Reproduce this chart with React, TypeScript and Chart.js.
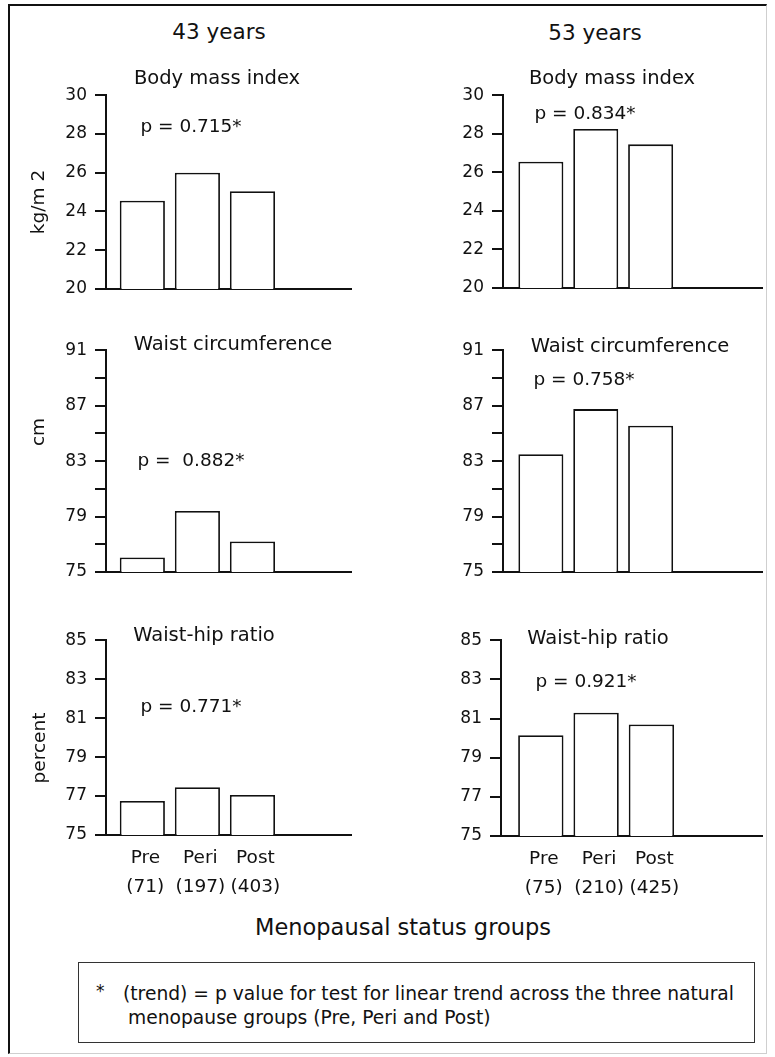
import React, { useEffect, useRef } from 'react';
import { Chart, registerables } from 'chart.js';

Chart.register(...registerables);

const FONT = "'DejaVu Sans', 'Liberation Sans', sans-serif";
const INK = '#111111';

// ---- data ----
const groups = ['Pre', 'Peri', 'Post'];
const counts43 = ['(71)', '(197)', '(403)'];
const counts53 = ['(75)', '(210)', '(425)'];

const bmi43 = [24.55, 26.0, 25.05];
const bmi53 = [26.55, 28.25, 27.45];
const waist43 = [76.05, 79.4, 77.2];
const waist53 = [83.5, 86.75, 85.55];
const whr43 = [76.75, 77.45, 77.05];
const whr53 = [80.15, 81.3, 80.7];

const bmiRange = [20, 30];
const waistRange = [75, 91];
const whrRange = [75, 85];
const tickStep = 2;
const waistLabelStep = 4;
const plainLabelStep = 2;

const ageTitles = ['43 years', '53 years'];
const measureTitles = ['Body mass index', 'Waist circumference', 'Waist-hip ratio'];
const unitTitles = ['kg/m 2', 'cm', 'percent'];
const pText43 = ['p = 0.715*', 'p =  0.882*', 'p = 0.771*'];
const pText53 = ['p = 0.834*', 'p = 0.758*', 'p = 0.921*'];
const xAxisTitle = 'Menopausal status groups';
const footnoteLines = [
  '(trend) = p value for test for linear trend across the three natural',
  'menopause groups (Pre, Peri and Post)',
];

// ---- layout helpers ----
const YW = 70;
const PT = 16;
const PR = 8;
const XH = 72;

type PanelProps = {
  values: number[];
  range: number[];
  labelStep: number;
  counts: string[] | null;
  axisX: number;
  topY: number;
  bottomY: number;
  rightX: number;
  xMin: number;
  xMax: number;
};

function Panel(props: PanelProps) {
  const { values, range, labelStep, counts, axisX, topY, bottomY, rightX, xMin, xMax } = props;
  const ref = useRef<HTMLCanvasElement>(null);
  const left = axisX - YW;
  const top = topY - PT;
  const width = rightX + PR - left;
  const height = bottomY + XH - top;

  useEffect(() => {
    const chart = new Chart(ref.current as HTMLCanvasElement, {
      type: 'bar',
      data: {
        datasets: [
          {
            data: values.map((v, i) => ({ x: i + 1, y: v })),
            backgroundColor: '#ffffff',
            borderColor: INK,
            borderWidth: 1.8,
            barPercentage: 0.82,
            categoryPercentage: 1,
          } as any,
        ],
      },
      options: {
        animation: false,
        responsive: false,
        maintainAspectRatio: false,
        devicePixelRatio: 1,
        layout: { padding: { top: PT, right: PR, left: 0, bottom: 0 } },
        plugins: { legend: { display: false }, tooltip: { enabled: false }, title: { display: false } },
        scales: {
          x: {
            type: 'linear',
            min: xMin,
            max: xMax,
            offset: false,
            grid: { display: false, drawTicks: false },
            border: { display: true, color: INK, width: 2 },
            afterBuildTicks: (s: any) => {
              s.ticks = groups.map((_, i) => ({ value: i + 1 }));
            },
            afterFit: (s: any) => {
              s.height = XH;
            },
            ticks: {
              display: !!counts,
              autoSkip: false,
              maxRotation: 0,
              minRotation: 0,
              padding: 8,
              labelOffset: 3,
              color: INK,
              font: { family: FONT, size: 18.5, lineHeight: 1.6 },
              callback: (_v: any, i: number) => (counts ? [groups[i], counts[i]] : ''),
            },
          },
          y: {
            type: 'linear',
            min: range[0],
            max: range[1],
            grid: { drawOnChartArea: false, drawTicks: true, tickLength: 11, color: INK, lineWidth: 2 },
            border: { display: true, color: INK, width: 2 },
            afterFit: (s: any) => {
              s.width = YW;
            },
            ticks: {
              stepSize: tickStep,
              autoSkip: false,
              padding: 8,
              color: INK,
              font: { family: FONT, size: 17 },
              callback: (v: any) => ((Number(v) - range[0]) % labelStep === 0 ? String(v) : ''),
            },
          },
        },
      } as any,
    });
    return () => chart.destroy();
  }, []);

  return (
    <canvas
      ref={ref}
      width={width}
      height={height}
      style={{ position: 'absolute', left, top, width, height, display: 'block' }}
    />
  );
}

type TProps = {
  x: number;
  y: number;
  size: number;
  text: string;
  rotate?: boolean;
  anchor?: 'center' | 'left';
};

function T({ x, y, size, text, rotate, anchor = 'center' }: TProps) {
  const tx = anchor === 'center' ? '-50%' : '0';
  return (
    <div
      style={{
        position: 'absolute',
        left: x,
        top: y,
        transform: `translate(${tx}, -50%)${rotate ? ' rotate(-90deg)' : ''}`,
        fontFamily: FONT,
        fontSize: size,
        lineHeight: 1,
        whiteSpace: 'pre',
        color: INK,
      }}
    >
      {text}
    </div>
  );
}

export default function App() {
  const L = { axisX: 106, rightX: 351, xMin: 0.34, xMax: 4.79 };
  const R = { axisX: 503, rightX: 762, xMin: 0.31, xMax: 5.03 };
  const R3 = { axisX: 501, rightX: 762, xMin: 0.28, xMax: 5.0 };

  return (
    <div style={{ position: 'absolute', left: 0, top: 0, width: 775, height: 1057, background: '#fff' }}>
      <div
        style={{
          position: 'absolute',
          left: 8,
          top: 4,
          width: 759,
          height: 1050,
          boxSizing: 'border-box',
          borderLeft: '2.5px solid #111',
          borderTop: '2.5px solid #111',
          borderRight: '1px solid #cfcfcf',
          borderBottom: '1px solid #cfcfcf',
        }}
      />

      <Panel values={bmi43} range={bmiRange} labelStep={plainLabelStep} counts={null} topY={93} bottomY={289} {...L} />
      <Panel values={bmi53} range={bmiRange} labelStep={plainLabelStep} counts={null} topY={93} bottomY={288} {...R} />
      <Panel values={waist43} range={waistRange} labelStep={waistLabelStep} counts={null} topY={348} bottomY={572} {...L} />
      <Panel values={waist53} range={waistRange} labelStep={waistLabelStep} counts={null} topY={348} bottomY={572} {...R} />
      <Panel values={whr43} range={whrRange} labelStep={plainLabelStep} counts={counts43} topY={638} bottomY={835} {...L} />
      <Panel values={whr53} range={whrRange} labelStep={plainLabelStep} counts={counts53} topY={638} bottomY={836} {...R3} />

      <T x={219} y={32} size={21.5} text={ageTitles[0]} />
      <T x={595} y={33} size={21.5} text={ageTitles[1]} />

      <T x={217} y={78} size={19.5} text={measureTitles[0]} />
      <T x={612} y={78} size={19.5} text={measureTitles[0]} />
      <T x={233} y={344} size={19.5} text={measureTitles[1]} />
      <T x={630} y={346} size={19.5} text={measureTitles[1]} />
      <T x={204} y={635} size={19.5} text={measureTitles[2]} />
      <T x={598} y={638} size={19.5} text={measureTitles[2]} />

      <T x={191} y={126} size={18.5} text={pText43[0]} />
      <T x={191} y={460} size={18.5} text={pText43[1]} />
      <T x={191} y={706} size={18.5} text={pText43[2]} />
      <T x={585} y={113} size={18.5} text={pText53[0]} />
      <T x={584} y={379} size={18.5} text={pText53[1]} />
      <T x={586} y={681} size={18.5} text={pText53[2]} />

      <T x={38} y={202} size={18.5} text={unitTitles[0]} rotate />
      <T x={38} y={432} size={18.5} text={unitTitles[1]} rotate />
      <T x={39} y={748} size={18.5} text={unitTitles[2]} rotate />

      <T x={403} y={927} size={22.5} text={xAxisTitle} />

      <div
        style={{
          position: 'absolute',
          left: 78,
          top: 962,
          width: 677,
          height: 81,
          boxSizing: 'border-box',
          border: '1.5px solid #333',
        }}
      />
      <T x={96} y={991} size={17} text="*" anchor="left" />
      <T x={123} y={994} size={18.7} text={footnoteLines[0]} anchor="left" />
      <T x={128} y={1018} size={18.7} text={footnoteLines[1]} anchor="left" />
    </div>
  );
}
